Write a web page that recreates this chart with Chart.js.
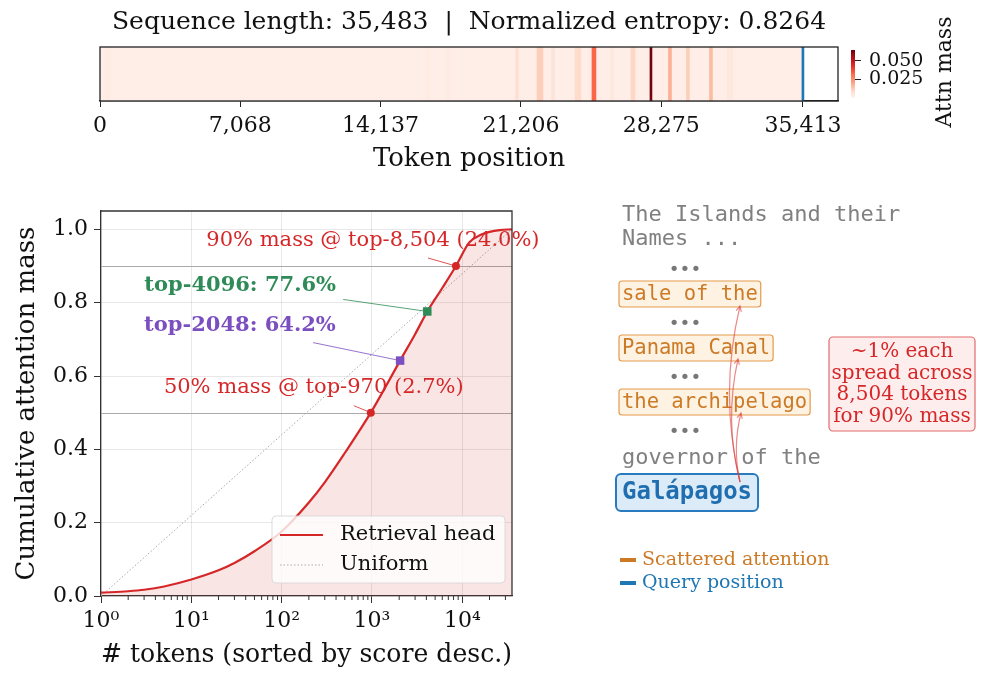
<!DOCTYPE html>
<html>
<head>
<meta charset="utf-8">
<script src="https://cdn.jsdelivr.net/npm/chart.js@4.4.1/dist/chart.umd.min.js"></script>
<style>
  html, body { margin: 0; padding: 0; background: #fff; }
  #wrap { position: relative; width: 997px; height: 683px; overflow: hidden; }
  canvas { position: absolute; }
  #heat { left: 0; top: 0; }
  #cdf { left: 0; top: 190px; }
  #cbar { left: 830px; top: 0; }
</style>
</head>
<body>
<div id="wrap">
  <canvas id="heat" width="997" height="180"></canvas>
  <canvas id="cdf" width="997" height="493"></canvas>
  <canvas id="cbar" width="167" height="140"></canvas>
</div>
<script>
// ─── DATA ─────────────────────────────────────────────────
const seqLength = 35483;
const entropy = 0.8264;
const queryPos = 35413;
const tokenTicks = [0, 7068, 14137, 21206, 28275, 35413];

// attention heat strip: a faint base level plus the visible stripes
const baseMass = 0.0025;
const stripeCenter = [403, 16523, 17530, 21006, 22165, 22820, 24079, 24885, 25792, 26850, 27757, 28714, 29620, 30779, 31736];
const stripeWidth  = [200, 200, 200, 150, 300, 150, 300, 200, 150, 200, 100, 150, 150, 150, 300];
const stripeMass   = [0.004, 0.004, 0.004, 0.008, 0.012, 0.007, 0.009, 0.033, 0.005, 0.010, 0.063, 0.018, 0.012, 0.016, 0.005];
const cbTicks = [0.025, 0.05];
const cbMax = 0.0645;

// cumulative attention mass vs number of top tokens
const topN    = [1, 2, 3, 5, 10, 20, 30, 50, 100, 200, 300, 500, 970, 1500, 2048, 3000, 4096, 6000, 8504, 12000, 16000, 20000, 26000, 35483];
const cumMass = [0.009, 0.013, 0.017, 0.026, 0.045, 0.07, 0.09, 0.122, 0.176, 0.255, 0.31, 0.39, 0.50, 0.582, 0.642, 0.714, 0.776, 0.84, 0.90, 0.965, 0.985, 0.993, 0.998, 1.0];
const uniformN    = [1, 35483];
const uniformMass = [0, 1];
const keyN    = [970, 8504];
const keyMass = [0.5, 0.9];
const topK     = [2048, 4096];
const topKMass = [0.642, 0.776];
const yTicks = [0, 0.2, 0.4, 0.6, 0.8, 1.0];

// right-hand text panel
const contextLines = ['The Islands and their', 'Names ...'];
const scatteredSpans = ['sale of the', 'Panama Canal', 'the archipelago'];
const queryPrefix = 'governor of the';
const queryToken = 'Galápagos';

// ─── STYLE HELPERS ────────────────────────────────────────
const SERIF = "'DejaVu Serif', serif";
const MONO = "'DejaVu Sans Mono', monospace";
const RED = '#d62728', GREEN = '#2e8b57', PURPLE = '#7b4fc0', ORANGE = '#cc7a26', BLUE = '#1f77b4';
const INK = '#111', SPINE = '#333', GRID = 'rgba(0,0,0,0.09)';
const SUP = ['\u2070', '\u00b9', '\u00b2', '\u00b3', '\u2074'];
const fmt = n => n.toLocaleString('en-US');
const pct = n => (n / seqLength * 100).toFixed(1);
const isPow10 = v => Math.abs(Math.log10(v) - Math.round(Math.log10(v))) < 1e-9;

const REDS = ['#fff5f0', '#fee0d2', '#fcbba1', '#fc9272', '#fb6a4a', '#ef3b2c', '#cb181d', '#a50f15', '#67000d'];
function hexRgb(h) { return [1, 3, 5].map(i => parseInt(h.slice(i, i + 2), 16)); }
function reds(t) {
    t = Math.max(0, Math.min(1, t)) * (REDS.length - 1);
    const i = Math.min(REDS.length - 2, Math.floor(t)), f = t - i;
    const a = hexRgb(REDS[i]), b = hexRgb(REDS[i + 1]);
    return `rgb(${a.map((c, k) => Math.round(c + (b[k] - c) * f)).join(',')})`;
}
const massColor = v => reds(v / cbMax);

// ─── HEAT STRIP ───────────────────────────────────────────
const barBase = { grouped: false, barPercentage: 1, categoryPercentage: 1, borderWidth: 0 };
const heatDatasets = [
    { ...barBase, label: 'Query position', data: [[queryPos - 50, queryPos + 50]], backgroundColor: BLUE, order: 0 },
    ...stripeCenter.map((c, i) => ({
        ...barBase, label: 'stripe ' + i,
        data: [[c - stripeWidth[i] / 2, c + stripeWidth[i] / 2]],
        backgroundColor: massColor(stripeMass[i]), order: 1
    })),
    { ...barBase, label: 'base', data: [[0, queryPos]], backgroundColor: massColor(baseMass), order: 2 }
];

const frame = {
    id: 'frame',
    afterDraw(chart) {
        const { ctx, chartArea: a } = chart;
        ctx.save();
        ctx.strokeStyle = '#222';
        ctx.lineWidth = 1.3;
        ctx.strokeRect(a.left, a.top, a.right - a.left, a.bottom - a.top);
        ctx.restore();
    }
};

new Chart(document.getElementById('heat'), {
    type: 'bar',
    data: { labels: ['attn'], datasets: heatDatasets },
    options: {
        indexAxis: 'y',
        responsive: false,
        animation: false,
        layout: { padding: { left: 100, right: 159, top: 0, bottom: 0 } },
        plugins: {
            legend: { display: false },
            tooltip: { enabled: false },
            title: {
                display: true,
                text: `Sequence length: ${fmt(seqLength)}  |  Normalized entropy: ${entropy.toFixed(4)}`,
                font: { family: SERIF, size: 25, weight: 'normal' },
                color: INK,
                padding: { top: 7, bottom: 10 }
            }
        },
        scales: {
            y: { display: false },
            x: {
                type: 'linear', min: 0, max: 37180,
                afterBuildTicks: s => { s.ticks = tokenTicks.map(v => ({ value: v })); },
                afterFit: s => { s.height = 79; },
                ticks: { font: { family: SERIF, size: 22 }, color: INK, padding: 6, maxRotation: 0, autoSkip: false, callback: v => fmt(v) },
                grid: { drawOnChartArea: false, drawTicks: true, tickLength: 6, tickColor: '#222' },
                border: { color: '#222', width: 1.3 },
                title: { display: true, text: 'Token position', font: { family: SERIF, size: 26 }, color: INK, padding: { top: 0, bottom: 5 } }
            }
        }
    },
    plugins: [frame]
});

// ─── COLORBAR ─────────────────────────────────────────────
const cbarLabel = {
    id: 'cbarLabel',
    afterDraw(chart) {
        const ctx = chart.ctx;
        ctx.save();
        ctx.translate(115, 72);
        ctx.rotate(-Math.PI / 2);
        ctx.font = `22px ${SERIF}`;
        ctx.fillStyle = INK;
        ctx.textAlign = 'center';
        ctx.textBaseline = 'middle';
        ctx.fillText('Attn mass', 0, 0);
        ctx.restore();
    }
};

new Chart(document.getElementById('cbar'), {
    type: 'bar',
    data: {
        labels: ['mass'],
        datasets: [{
            ...barBase,
            data: [[0, cbMax]],
            backgroundColor: c => {
                const a = c.chart.chartArea;
                if (!a) return REDS[4];
                const g = c.chart.ctx.createLinearGradient(0, a.bottom, 0, a.top);
                REDS.forEach((col, i) => g.addColorStop(i / (REDS.length - 1), col));
                return g;
            }
        }]
    },
    options: {
        responsive: false,
        animation: false,
        layout: { padding: { left: 21, top: 50, bottom: 42, right: 0 } },
        plugins: { legend: { display: false }, tooltip: { enabled: false } },
        scales: {
            x: { display: false },
            y: {
                position: 'right', min: 0, max: cbMax,
                afterBuildTicks: s => { s.ticks = cbTicks.map(v => ({ value: v })); },
                afterFit: s => { s.width = 142; },
                ticks: { font: { family: SERIF, size: 19 }, color: INK, padding: 8, callback: v => v.toFixed(3) },
                grid: { drawOnChartArea: false, tickLength: 6, tickColor: '#222' },
                border: { display: false }
            }
        }
    },
    plugins: [cbarLabel]
});

// ─── CUMULATIVE MASS CHART ────────────────────────────────
const annos = [
    { n: keyN[1], m: keyMass[1], text: `90% mass @ top-${fmt(keyN[1])} (${pct(keyN[1])}%)`, color: RED, weight: 'normal', dx: -83, dy: -25, align: 'center', lx: -28, ly: -8 },
    { n: topK[1], m: topKMass[1], text: `top-${topK[1]}: ${(topKMass[1] * 100).toFixed(1)}%`, color: GREEN, weight: 'bold', dx: -283, dy: -26, align: 'left', lx: -84, ly: -12 },
    { n: topK[0], m: topKMass[0], text: `top-${topK[0]}: ${(topKMass[0] * 100).toFixed(1)}%`, color: PURPLE, weight: 'bold', dx: -256, dy: -35, align: 'left', lx: -87, ly: -18 },
    { n: keyN[0], m: keyMass[0], text: `50% mass @ top-${fmt(keyN[0])} (${pct(keyN[0])}%)`, color: RED, weight: 'normal', dx: -57, dy: -25, align: 'center', lx: -17, ly: -7 }
];

function curvedArrow(ctx, x1, y1, x2, y2, rad) {
    const mx = (x1 + x2) / 2, my = (y1 + y2) / 2;
    const cx = mx + rad * (y2 - y1), cy = my - rad * (x2 - x1);
    ctx.beginPath();
    ctx.moveTo(x1, y1);
    ctx.quadraticCurveTo(cx, cy, x2, y2);
    ctx.stroke();
    const ang = Math.atan2(y2 - cy, x2 - cx), L = 6, A = 0.45;
    ctx.beginPath();
    ctx.moveTo(x2 - L * Math.cos(ang - A), y2 - L * Math.sin(ang - A));
    ctx.lineTo(x2, y2);
    ctx.lineTo(x2 - L * Math.cos(ang + A), y2 - L * Math.sin(ang + A));
    ctx.stroke();
}

function drawPanel(ctx) {
    const X0 = 622, oy = 190;
    ctx.save();
    ctx.textBaseline = 'middle';
    ctx.textAlign = 'left';
    ctx.font = `22px ${MONO}`;
    ctx.fillStyle = '#808080';
    contextLines.forEach((s, i) => ctx.fillText(s, X0, 215 + 24 * i - oy));

    ctx.font = `18px ${MONO}`;
    ctx.fillStyle = '#777';
    ctx.textAlign = 'center';
    [270, 324, 378, 432].forEach(y => ctx.fillText('\u2022\u2022\u2022', 685, y - oy));

    ctx.textAlign = 'left';
    ctx.font = `20.5px ${MONO}`;
    scatteredSpans.forEach((s, i) => {
        const cy = 294 + 54 * i - oy;
        const w = ctx.measureText(s).width;
        ctx.beginPath();
        ctx.roundRect(X0 - 3, cy - 13, w + 6, 26, 3);
        ctx.fillStyle = '#fef2e3';
        ctx.fill();
        ctx.strokeStyle = '#e39b4c';
        ctx.lineWidth = 1.2;
        ctx.stroke();
        ctx.fillStyle = ORANGE;
        ctx.fillText(s, X0, cy + 1);
    });

    ctx.font = `22px ${MONO}`;
    ctx.fillStyle = '#808080';
    ctx.fillText(queryPrefix, X0, 458 - oy);

    ctx.font = `bold 24px ${MONO}`;
    const qw = ctx.measureText(queryToken).width;
    ctx.beginPath();
    ctx.roundRect(X0 - 6, 474 - oy, qw + 12, 37, 5);
    ctx.fillStyle = '#dcebf8';
    ctx.fill();
    ctx.strokeStyle = '#2a7abf';
    ctx.lineWidth = 2;
    ctx.stroke();
    ctx.fillStyle = '#1f6fb0';
    ctx.fillText(queryToken, X0, 493 - oy);

    ctx.strokeStyle = 'rgba(220,60,60,0.6)';
    ctx.lineWidth = 1.2;
    [[740, 306], [738, 359], [741, 413]].forEach(([x, y]) => curvedArrow(ctx, 740, 482 - oy, x, y - oy, 0.12));

    // note box
    ctx.beginPath();
    ctx.roundRect(829, 337 - oy, 146, 94, 4);
    ctx.fillStyle = '#fdeded';
    ctx.fill();
    ctx.strokeStyle = '#e36a6a';
    ctx.lineWidth = 1.2;
    ctx.stroke();
    ctx.font = `20px ${SERIF}`;
    ctx.fillStyle = RED;
    ctx.textAlign = 'center';
    const noteLines = ['~1% each', 'spread across', `${fmt(keyN[1])} tokens`, `for ${keyMass[1] * 100}% mass`];
    noteLines.forEach((s, i) => ctx.fillText(s, 902, 352 + 21.5 * i - oy));

    // panel legend
    ctx.textAlign = 'left';
    ctx.font = `19px ${SERIF}`;
    [['Scattered attention', ORANGE, 560], ['Query position', BLUE, 583]].forEach(([s, c, y]) => {
        ctx.fillStyle = c;
        ctx.fillRect(620, y - 2 - oy, 16, 4);
        ctx.fillText(s, 642, y - oy);
    });
    ctx.restore();
}

const cdfExtras = {
    id: 'cdfExtras',
    beforeDatasetsDraw(chart) {
        const { ctx, chartArea: a, scales: { y } } = chart;
        ctx.save();
        ctx.strokeStyle = '#aaaaaa';
        ctx.lineWidth = 1;
        keyMass.forEach(m => {
            const py = Math.round(y.getPixelForValue(m)) + 0.5;
            ctx.beginPath(); ctx.moveTo(a.left, py); ctx.lineTo(a.right, py); ctx.stroke();
        });
        ctx.restore();
    },
    afterDatasetsDraw(chart) {
        const { ctx, chartArea: a, scales: { x, y } } = chart;
        ctx.save();
        // top and right spines
        ctx.strokeStyle = SPINE;
        ctx.lineWidth = 1.3;
        ctx.beginPath();
        ctx.moveTo(a.left, a.top); ctx.lineTo(a.right, a.top); ctx.lineTo(a.right, a.bottom);
        ctx.stroke();
        // minor log ticks
        ctx.lineWidth = 1;
        x.ticks.forEach(t => {
            if (isPow10(t.value)) return;
            const px = x.getPixelForValue(t.value);
            ctx.beginPath(); ctx.moveTo(px, a.bottom); ctx.lineTo(px, a.bottom + 4); ctx.stroke();
        });
        // annotations
        ctx.textBaseline = 'middle';
        annos.forEach(an => {
            const px = x.getPixelForValue(an.n), py = y.getPixelForValue(an.m);
            ctx.strokeStyle = an.color;
            ctx.lineWidth = 0.8;
            ctx.beginPath(); ctx.moveTo(px + an.lx, py + an.ly); ctx.lineTo(px, py); ctx.stroke();
            ctx.font = `${an.weight} 21px ${SERIF}`;
            ctx.fillStyle = an.color;
            ctx.textAlign = an.align;
            ctx.fillText(an.text, px + an.dx, py + an.dy);
        });
        // legend
        const lx = a.right - 240, ly = a.bottom - 80;
        ctx.beginPath();
        ctx.roundRect(lx, ly, 233, 67, 4);
        ctx.fillStyle = 'rgba(255,255,255,0.8)';
        ctx.fill();
        ctx.strokeStyle = 'rgba(210,210,210,0.8)';
        ctx.lineWidth = 1;
        ctx.stroke();
        const ds = chart.data.datasets;
        [0, 1].forEach((k, i) => {
            const yy = ly + 19 + 30 * i;
            ctx.strokeStyle = ds[k].borderColor;
            ctx.lineWidth = ds[k].borderWidth;
            ctx.setLineDash(ds[k].borderDash || []);
            ctx.beginPath(); ctx.moveTo(lx + 8, yy); ctx.lineTo(lx + 51, yy); ctx.stroke();
            ctx.setLineDash([]);
            ctx.font = `21px ${SERIF}`;
            ctx.fillStyle = INK;
            ctx.textAlign = 'left';
            ctx.fillText(ds[k].label, lx + 68, yy);
        });
        ctx.restore();
        drawPanel(ctx);
    }
};

new Chart(document.getElementById('cdf'), {
    type: 'line',
    data: {
        datasets: [
            {
                label: 'Retrieval head',
                data: topN.map((n, i) => ({ x: n, y: cumMass[i] })),
                borderColor: RED, borderWidth: 2.2, pointRadius: 0,
                fill: 'origin', backgroundColor: 'rgba(214,39,40,0.12)',
                cubicInterpolationMode: 'monotone', order: 2
            },
            {
                label: 'Uniform',
                data: uniformN.map((n, i) => ({ x: n, y: uniformMass[i] })),
                borderColor: '#a8a8a8', borderWidth: 1, borderDash: [1.5, 2],
                pointRadius: 0, fill: false, order: 3
            },
            {
                label: 'mass thresholds', type: 'scatter',
                data: keyN.map((n, i) => ({ x: n, y: keyMass[i] })),
                pointStyle: 'circle', pointRadius: 4, backgroundColor: RED, borderWidth: 0, order: 0
            },
            {
                label: 'top-4096', type: 'scatter',
                data: [{ x: topK[1], y: topKMass[1] }],
                pointStyle: 'rect', pointRadius: 6, backgroundColor: GREEN, borderWidth: 0, order: 0
            },
            {
                label: 'top-2048', type: 'scatter',
                data: [{ x: topK[0], y: topKMass[0] }],
                pointStyle: 'rect', pointRadius: 6, backgroundColor: PURPLE, borderWidth: 0, order: 0
            }
        ]
    },
    options: {
        responsive: false,
        animation: false,
        layout: { padding: { left: 0, right: 485, top: 21, bottom: 0 } },
        plugins: { legend: { display: false }, tooltip: { enabled: false } },
        scales: {
            x: {
                type: 'logarithmic', min: 1, max: seqLength,
                afterBuildTicks: s => {
                    const t = [];
                    for (let e = 0; e <= 4; e++) {
                        for (let m = 1; m <= 9; m++) {
                            const v = m * Math.pow(10, e);
                            if (v <= seqLength) t.push({ value: v, major: m === 1 });
                        }
                    }
                    s.ticks = t;
                },
                afterFit: s => { s.height = 87; },
                ticks: {
                    font: { family: SERIF, size: 22 }, color: INK, padding: 5, maxRotation: 0, autoSkip: false,
                    callback: v => isPow10(v) ? '10' + SUP[Math.round(Math.log10(v))] : ''
                },
                grid: {
                    color: c => (c.tick && isPow10(c.tick.value)) ? GRID : 'rgba(0,0,0,0)',
                    tickColor: c => (c.tick && isPow10(c.tick.value)) ? SPINE : 'rgba(0,0,0,0)',
                    tickLength: 7, lineWidth: 1
                },
                border: { color: SPINE, width: 1.3 },
                title: { display: true, text: '# tokens (sorted by score desc.)', font: { family: SERIF, size: 26 }, color: INK, padding: { top: 0, bottom: 12 } }
            },
            y: {
                min: 0, max: 1.05,
                afterBuildTicks: s => { s.ticks = yTicks.map(v => ({ value: v })); },
                afterFit: s => { s.width = 101; },
                ticks: { font: { family: SERIF, size: 22 }, color: INK, padding: 6, callback: v => v.toFixed(1) },
                grid: { color: GRID, tickColor: SPINE, tickLength: 7, lineWidth: 1 },
                border: { color: SPINE, width: 1.3 },
                title: { display: true, text: 'Cumulative attention mass', font: { family: SERIF, size: 26 }, color: INK, padding: { top: 12, bottom: 0 } }
            }
        }
    },
    plugins: [cdfExtras]
});
</script>
</body>
</html>
